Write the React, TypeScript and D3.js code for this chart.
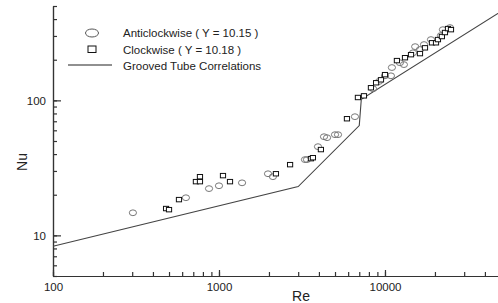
import { useEffect, useRef } from "react";
import * as d3 from "d3";

// Anticlockwise (Y = 10.15)
const antiRe = [303, 632, 871, 1000, 1377, 1974, 2113, 3296, 3390, 3948, 4293, 4477, 5000, 5212, 6592, 8472, 9204, 10000, 10862, 11010, 12300, 13000, 14750, 15200, 16250, 17190, 18930, 21730, 22340, 24640];
const antiNu = [14.7, 19.0, 22.2, 23.3, 24.5, 28.6, 27.2, 36.4, 36.4, 45.4, 53.8, 52.9, 55.7, 55.7, 75.7, 122, 138, 152, 152, 175, 190, 184, 225, 250, 238, 259, 282, 302, 334, 346];

// Clockwise (Y = 10.18)
const clockRe = [480, 500, 574, 726, 768, 768, 1057, 1165, 2203, 2681, 3581, 3680, 4111, 5900, 6870, 7470, 8230, 8840, 9460, 10000, 11800, 13200, 14350, 16250, 17420, 19190, 20300, 20850, 22020, 22980, 23970, 24980];
const clockNu = [15.8, 15.5, 18.4, 25.0, 25.0, 27.2, 27.7, 25.0, 28.6, 33.4, 37.0, 37.6, 43.2, 73.1, 105, 108, 124, 135, 142, 155, 197, 207, 218, 222, 245, 267, 267, 282, 297, 318, 340, 334];

// Grooved tube correlations
const corrRe = [100, 3000, 7000, 7200, 50000];
const corrNu = [8.3, 23, 65, 102, 455];

const reMajor = [100, 1000, 10000];
const nuMajor = [10, 100];

const legendItems = ["Anticlockwise ( Y = 10.15 )", "Clockwise ( Y = 10.18 )", "Grooved Tube Correlations"];

const W = 498;
const H = 303;
const FONT = "'Liberation Sans', Arial, sans-serif";

export default function App() {
  const ref = useRef<SVGSVGElement>(null);

  useEffect(() => {
    const svg = d3.select(ref.current);
    svg.selectAll("*").remove();

    const x = d3.scaleLog().domain([100, 50000]).range([53, 501]);
    const y = d3.scaleLog().domain([5, 500]).range([276, 6]);

    const axisColor = "#333";

    // bottom axis: minor ticks, then major ticks with labels
    const gxMinor = svg.append("g").attr("transform", "translate(0,276)")
      .call(d3.axisBottom(x).tickValues(x.ticks()).tickFormat(() => "").tickSizeInner(-4).tickSizeOuter(0));
    const gx = svg.append("g").attr("transform", "translate(0,276)")
      .call(d3.axisBottom(x).tickValues(reMajor).tickFormat(d3.format("d")).tickSizeInner(-6).tickSizeOuter(0).tickPadding(7));

    const gyMinor = svg.append("g").attr("transform", "translate(53,0)")
      .call(d3.axisLeft(y).tickValues(y.ticks()).tickFormat(() => "").tickSizeInner(-4).tickSizeOuter(0));
    const gy = svg.append("g").attr("transform", "translate(53,0)")
      .call(d3.axisLeft(y).tickValues(nuMajor).tickFormat(d3.format("d")).tickSizeInner(-8).tickSizeOuter(0).tickPadding(7));

    [gxMinor, gx, gyMinor, gy].forEach(g => {
      g.selectAll("path, line").attr("stroke", axisColor).attr("stroke-width", 1.2);
      g.selectAll("text").attr("fill", "#222").style("font-family", FONT).style("font-size", "11.5px");
    });

    // axis titles
    svg.append("text")
      .attr("x", 301).attr("y", 301)
      .attr("text-anchor", "middle")
      .style("font-family", FONT).style("font-size", "14px").attr("fill", "#222")
      .text("Re");
    svg.append("text")
      .attr("transform", "translate(27,162) rotate(-90)")
      .attr("text-anchor", "middle")
      .style("font-family", FONT).style("font-size", "14px").attr("fill", "#222")
      .text("Nu");

    // correlation line
    const line = d3.line<number>()
      .x((_, i) => x(corrRe[i]))
      .y(d => y(d));
    svg.append("path")
      .datum(corrNu)
      .attr("fill", "none")
      .attr("stroke", "#444")
      .attr("stroke-width", 1.1)
      .attr("d", line);

    // anticlockwise circles
    svg.append("g").selectAll("ellipse")
      .data(antiNu)
      .join("ellipse")
      .attr("cx", (_, i) => x(antiRe[i]))
      .attr("cy", d => y(d))
      .attr("rx", 3.6)
      .attr("ry", 2.9)
      .attr("fill", "none")
      .attr("stroke", "#777")
      .attr("stroke-width", 1);

    // clockwise squares
    svg.append("g").selectAll("rect")
      .data(clockNu)
      .join("rect")
      .attr("x", (_, i) => x(clockRe[i]) - 2.6)
      .attr("y", d => y(d) - 2.2)
      .attr("width", 5.2)
      .attr("height", 4.4)
      .attr("fill", "white")
      .attr("stroke", "#111")
      .attr("stroke-width", 1);

    // legend
    const lg = svg.append("g");
    lg.append("ellipse").attr("cx", 92).attr("cy", 33).attr("rx", 6.5).attr("ry", 4)
      .attr("fill", "none").attr("stroke", "#555").attr("stroke-width", 1);
    lg.append("rect").attr("x", 88).attr("y", 46).attr("width", 8).attr("height", 6.5)
      .attr("fill", "none").attr("stroke", "#111").attr("stroke-width", 1);
    lg.append("line").attr("x1", 68).attr("x2", 112).attr("y1", 65).attr("y2", 65)
      .attr("stroke", "#222").attr("stroke-width", 1.1);
    lg.selectAll("text")
      .data(legendItems)
      .join("text")
      .attr("x", 123)
      .attr("y", (_, i) => 37 + i * 16.5)
      .style("font-family", FONT).style("font-size", "11.5px").attr("fill", "#222")
      .text(d => d);
  }, []);

  return (
    <svg
      ref={ref}
      width={W}
      height={H}
      style={{ position: "absolute", left: 0, top: 0, background: "white" }}
    />
  );
}
